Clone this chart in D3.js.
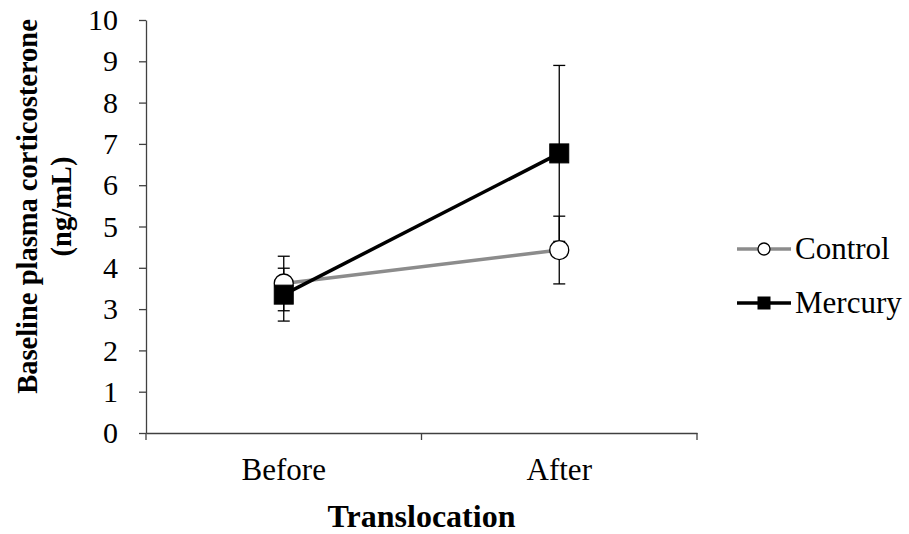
<!DOCTYPE html>
<html>
<head>
<meta charset="utf-8">
<script src="https://cdn.jsdelivr.net/npm/d3@7"></script>
<style>
  html, body { margin: 0; padding: 0; background: #fff; }
  svg text { font-family: "Liberation Serif", "Times New Roman", serif; fill: #000; }
</style>
</head>
<body>
<svg id="chart" width="909" height="534"></svg>
<script>
// Baseline plasma corticosterone (ng/mL), means and error bar half-widths
const categories = ["Before", "After"];
const seriesNames = ["Control", "Mercury"];
const controlMeans = [3.62, 4.43];
const controlErrors = [0.66, 0.82];
const mercuryMeans = [3.35, 6.77];
const mercuryErrors = [0.64, 2.13];
const yTicks = [0, 1, 2, 3, 4, 5, 6, 7, 8, 9, 10];

const series = [
  { name: seriesNames[0], means: controlMeans, errors: controlErrors, color: "#8c8c8c", marker: "circle" },
  { name: seriesNames[1], means: mercuryMeans, errors: mercuryErrors, color: "#000000", marker: "square" }
];

const svg = d3.select("#chart");
const plotLeft = 146, plotRight = 697, plotTop = 20, plotBottom = 433;

const x = d3.scaleBand().domain(categories).range([plotLeft, plotRight]).padding(0);
const y = d3.scaleLinear().domain([0, 10]).range([plotBottom, plotTop]);
const cx = c => x(c) + x.bandwidth() / 2;

const axisColor = "#404040";

// Y axis
const yAxis = svg.append("g")
  .attr("transform", `translate(${plotLeft},0)`)
  .call(d3.axisLeft(y).tickValues(yTicks).tickSize(7).tickSizeOuter(0).tickPadding(21));
yAxis.attr("font-family", null).attr("font-size", null);
yAxis.select(".domain").attr("stroke", axisColor).attr("stroke-width", 1.3);
yAxis.selectAll(".tick line").attr("stroke", axisColor).attr("stroke-width", 1.3);
yAxis.selectAll(".tick text").style("font-size", "30px");

// X axis: labels at category centres, tick marks at category boundaries
const xAxis = svg.append("g")
  .attr("transform", `translate(0,${plotBottom})`)
  .call(d3.axisBottom(x).tickSize(0).tickSizeOuter(0).tickPadding(25));
xAxis.attr("font-family", null).attr("font-size", null);
xAxis.select(".domain").attr("stroke", axisColor).attr("stroke-width", 1.3);
xAxis.selectAll(".tick text").style("font-size", "31px");
const boundaries = categories.map(c => x(c)).concat([x(categories[categories.length - 1]) + x.bandwidth()]);
xAxis.selectAll(".boundary").data(boundaries).join("line")
  .attr("class", "boundary")
  .attr("x1", d => d).attr("x2", d => d)
  .attr("y1", 0).attr("y2", 7)
  .attr("stroke", axisColor).attr("stroke-width", 1.3);

// Connecting lines
const line = d3.line().x((d, i) => cx(categories[i])).y(d => y(d));
series.forEach(s => {
  svg.append("path")
    .attr("d", line(s.means))
    .attr("fill", "none")
    .attr("stroke", s.color)
    .attr("stroke-width", 3.5);
});

// Error bars (drawn beneath all markers)
const capHalf = 6;
series.forEach(s => {
  const g = svg.append("g").attr("stroke", "#000").attr("stroke-width", 1.3);
  s.means.forEach((m, i) => {
    const px = cx(categories[i]);
    const hi = y(m + s.errors[i]), lo = y(m - s.errors[i]);
    g.append("line").attr("x1", px).attr("x2", px).attr("y1", hi).attr("y2", lo);
    g.append("line").attr("x1", px - capHalf).attr("x2", px + capHalf).attr("y1", hi).attr("y2", hi);
    g.append("line").attr("x1", px - capHalf).attr("x2", px + capHalf).attr("y1", lo).attr("y2", lo);
  });
});

// Markers
function drawMarker(g, type, px, py, size) {
  if (type === "circle") {
    g.append("circle").attr("cx", px).attr("cy", py).attr("r", size / 2)
      .attr("fill", "#fff").attr("stroke", "#000").attr("stroke-width", 1.3);
  } else {
    g.append("rect").attr("x", px - size / 2).attr("y", py - size / 2)
      .attr("width", size).attr("height", size)
      .attr("fill", "#000").attr("stroke", "#000").attr("stroke-width", 1);
  }
}
series.forEach(s => {
  const g = svg.append("g");
  s.means.forEach((m, i) => drawMarker(g, s.marker, cx(categories[i]), y(m), 19));
});

// Axis titles
svg.append("text")
  .attr("x", (plotLeft + plotRight) / 2).attr("y", 527)
  .attr("text-anchor", "middle")
  .style("font-weight", "bold").style("font-size", "32px")
  .text("Translocation");

const yTitle = svg.append("text")
  .attr("transform", `translate(37,${(plotTop + plotBottom) / 2 - 20}) rotate(-90)`)
  .attr("text-anchor", "middle")
  .style("font-weight", "bold").style("font-size", "28.5px");
yTitle.append("tspan").attr("x", 0).attr("dy", 0).text("Baseline plasma corticosterone");
yTitle.append("tspan").attr("x", 0).attr("dy", 34).text("(ng/mL)");

// Legend
const legend = svg.append("g");
series.forEach((s, i) => {
  const ly = 249 + i * 54;
  legend.append("line").attr("x1", 737).attr("x2", 791).attr("y1", ly).attr("y2", ly)
    .attr("stroke", s.color).attr("stroke-width", 3.5);
  drawMarker(legend, s.marker, 764, ly, 12);
  legend.append("text").attr("x", 795).attr("y", ly + 10)
    .style("font-size", "31px").text(s.name);
});
</script>
</body>
</html>
